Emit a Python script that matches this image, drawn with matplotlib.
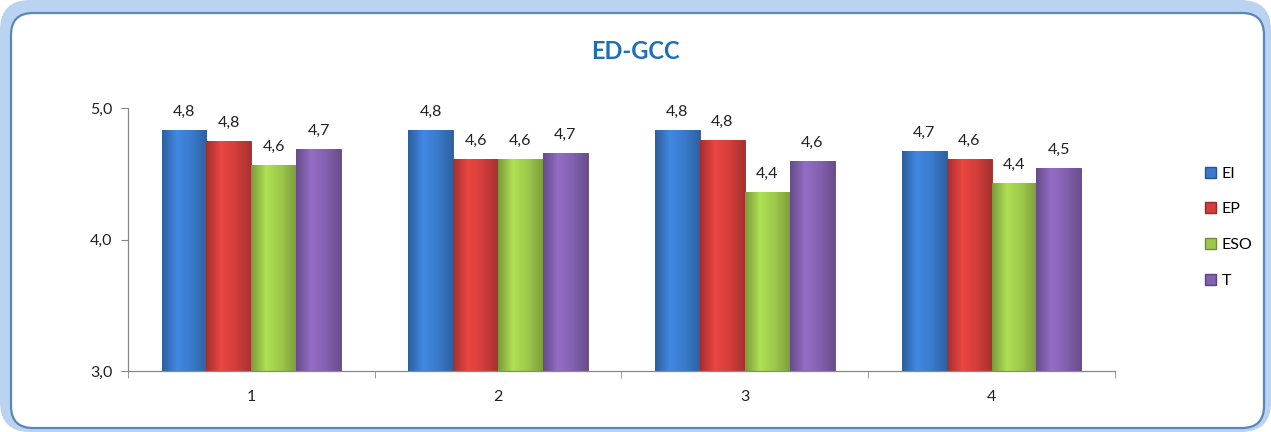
import matplotlib

matplotlib.use("Agg")

import matplotlib.pyplot as plt
import numpy as np
from matplotlib.colors import LinearSegmentedColormap, to_rgb
from matplotlib.patches import FancyBboxPatch, Patch

plt.rcParams["font.family"] = ["Lato", "DejaVu Sans"]

# data
categories = ["1", "2", "3", "4"]
series_names = ["EI", "EP", "ESO", "T"]
ei_values = [4.83, 4.83, 4.83, 4.67]
ep_values = [4.75, 4.61, 4.76, 4.61]
eso_values = [4.57, 4.61, 4.36, 4.43]
t_values = [4.69, 4.66, 4.60, 4.54]
series_values = [ei_values, ep_values, eso_values, t_values]
series_colors = ["#3A7ACB", "#D23E3B", "#9DC84B", "#8461B0"]
y_ticks = [3.0, 4.0, 5.0]


def comma(v):
    return f"{v:.1f}".replace(".", ",")


fig = plt.figure(figsize=(12.71, 4.32), dpi=100)
fig.patch.set_facecolor("white")

# rounded frame (in inches so the corners stay circular)
outer = FancyBboxPatch((0.0, 0.0), 12.71, 4.32, boxstyle="round,pad=0,rounding_size=0.3",
                       transform=fig.dpi_scale_trans, facecolor="#B9D3F1", edgecolor="none", zorder=-2)
inner = FancyBboxPatch((0.11, 0.04), 12.53, 4.15, boxstyle="round,pad=0,rounding_size=0.22",
                       transform=fig.dpi_scale_trans, facecolor="white", edgecolor="#5B86BA",
                       linewidth=1.6, zorder=-1)
fig.patches.extend([outer, inner])

ax = fig.add_axes([0.1007, 0.1412, 0.7765, 0.6088])
ax.set_facecolor("none")
ax.set_xlim(0.5, len(categories) + 0.5)
ax.set_ylim(3.0, 5.0)

x = np.arange(1, len(categories) + 1)
width = 0.182
offsets = (np.arange(len(series_names)) - 1.5) * width
grad = np.linspace(0, 1, 64).reshape(1, -1)
y_min = ax.get_ylim()[0]

for name, values, color, off in zip(series_names, series_values, series_colors, offsets):
    base = np.array(to_rgb(color))
    bars = ax.bar(x + off, values, width=width, color=color, label=name,
                  edgecolor=tuple(base * 0.7), linewidth=0.6, zorder=2)
    # simple bevel look: darker sides, lighter left-middle
    cmap = LinearSegmentedColormap.from_list(
        name, [base * 0.78, np.minimum(base * 1.12, 1), base, base * 0.8])
    for rect in bars:
        x0, w, h = rect.get_x(), rect.get_width(), rect.get_height()
        im = ax.imshow(grad, cmap=cmap, aspect="auto", extent=(x0, x0 + w, y_min, h), zorder=2.5)
        im.set_clip_path(rect)
    ax.bar_label(bars, labels=[comma(v) for v in values], padding=8, fontsize=11.5,
                 color="#222222", zorder=3)

ax.set_xlim(0.5, len(categories) + 0.5)
ax.set_ylim(3.0, 5.0)
ax.set_yticks(y_ticks)
ax.set_yticklabels([comma(t) for t in y_ticks], fontsize=11.5, color="#222222")
ax.set_xticks(x)
ax.set_xticklabels(categories, fontsize=11.5, color="#222222")
ax.set_xticks(np.arange(0.5, len(categories) + 1), minor=True)
ax.tick_params(axis="x", which="major", length=0, pad=14)
ax.tick_params(axis="x", which="minor", length=5, color="#888888", direction="out")
ax.tick_params(axis="y", length=5, color="#888888", direction="out", pad=6)
for side in ["top", "right"]:
    ax.spines[side].set_visible(False)
for side in ["left", "bottom"]:
    ax.spines[side].set_color("#888888")
    ax.spines[side].set_linewidth(0.9)

fig.text(0.5, 0.88, "ED-GCC", ha="center", va="center", fontsize=17,
         fontweight="bold", color="#1F6FB4")

handles = [Patch(facecolor=c, edgecolor=tuple(np.array(to_rgb(c)) * 0.7), label=n)
           for n, c in zip(series_names, series_colors)]
fig.legend(handles=handles, loc="center left", bbox_to_anchor=(0.937, 0.474), frameon=False,
           fontsize=11.5, handlelength=0.7, handleheight=0.7, handletextpad=0.3, labelspacing=1.35)

fig.savefig("out.png", dpi=100)
